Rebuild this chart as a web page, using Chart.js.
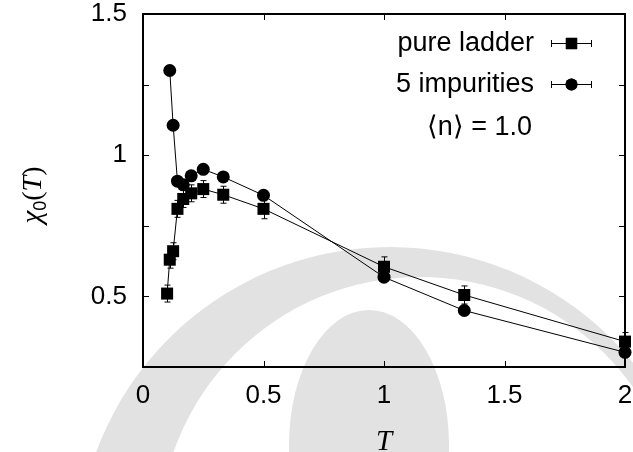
<!DOCTYPE html>
<html>
<head>
<meta charset="utf-8">
<script src="https://cdn.jsdelivr.net/npm/chart.js@4"></script>
<style>
  html, body { margin: 0; padding: 0; background: #fff; }
  canvas { display: block; }
</style>
</head>
<body>
<canvas id="chiChart" width="633" height="452"></canvas>
<script>
// temperatures and chi_0 values
const tPure = [0.1, 0.111, 0.125, 0.143, 0.167, 0.2, 0.25, 0.333, 0.5, 1.0, 1.333, 2.0];
const chiPure = [0.51, 0.63, 0.66, 0.81, 0.845, 0.865, 0.88, 0.86, 0.81, 0.605, 0.505, 0.34];
const errPure = [0.03, 0.03, 0.03, 0.03, 0.03, 0.03, 0.03, 0.03, 0.035, 0.035, 0.032, 0.032];

const tImp = [0.111, 0.125, 0.143, 0.167, 0.2, 0.25, 0.333, 0.5, 1.0, 1.333, 2.0];
const chiImp = [1.30, 1.106, 0.908, 0.895, 0.927, 0.95, 0.923, 0.858, 0.568, 0.45, 0.302];
const errImp = [0.01, 0.01, 0.01, 0.01, 0.01, 0.01, 0.01, 0.01, 0.01, 0.01, 0.01];

const seriesNames = ["pure ladder", "5 impurities"];
const xTicks = [0, 0.5, 1, 1.5, 2];
const yTickLabels = [0.5, 1, 1.5];
const annotationText = "\u27E8n\u27E9 = 1.0";

const sansFont = "'Liberation Sans', Arial, sans-serif";
const serifFont = "'Liberation Serif', 'Times New Roman', serif";

function toPoints(xs, ys) {
    return xs.map((x, i) => ({ x: x, y: ys[i] }));
}

// faint background logo (watermark in the original)
const watermarkPlugin = {
    id: "watermark",
    beforeDraw(chart) {
        const ctx = chart.ctx;
        ctx.save();
        ctx.fillStyle = "#e2e2e2";
        ctx.beginPath();
        ctx.arc(390, 560, 313, 0, Math.PI * 2);
        ctx.arc(420, 538, 261, 0, Math.PI * 2, true);
        ctx.fill("evenodd");
        ctx.beginPath();
        ctx.ellipse(369, 445, 80, 135, 0, 0, Math.PI * 2);
        ctx.fill();
        ctx.restore();
    }
};

// box round the plot plus inward ticks on all four sides
const framePlugin = {
    id: "frame",
    beforeDatasetsDraw(chart) {
        const { ctx, chartArea: a, scales } = chart;
        ctx.save();
        ctx.strokeStyle = "#000";
        ctx.lineWidth = 1;
        scales.x.ticks.forEach(t => {
            const px = Math.round(scales.x.getPixelForValue(t.value)) + 0.5;
            ctx.beginPath();
            ctx.moveTo(px, a.bottom); ctx.lineTo(px, a.bottom - 6);
            ctx.moveTo(px, a.top); ctx.lineTo(px, a.top + 6);
            ctx.stroke();
        });
        scales.y.ticks.forEach(t => {
            const py = Math.round(scales.y.getPixelForValue(t.value)) + 0.5;
            ctx.beginPath();
            ctx.moveTo(a.left, py); ctx.lineTo(a.left + 6, py);
            ctx.moveTo(a.right, py); ctx.lineTo(a.right - 6, py);
            ctx.stroke();
        });
        ctx.lineWidth = 2;
        ctx.strokeRect(a.left, a.top, a.right - a.left, a.bottom - a.top);
        ctx.restore();
    }
};

// vertical error bars with small caps
const errorBarPlugin = {
    id: "errorBars",
    afterDatasetsDraw(chart) {
        const ctx = chart.ctx;
        const yScale = chart.scales.y;
        const errs = [errPure, errImp];
        const vals = [chiPure, chiImp];
        ctx.save();
        ctx.strokeStyle = "#000";
        ctx.lineWidth = 1;
        chart.data.datasets.forEach((ds, di) => {
            const meta = chart.getDatasetMeta(di);
            meta.data.forEach((pt, i) => {
                const top = yScale.getPixelForValue(vals[di][i] + errs[di][i]);
                const bot = yScale.getPixelForValue(vals[di][i] - errs[di][i]);
                const x = Math.round(pt.x) + 0.5;
                ctx.beginPath();
                ctx.moveTo(x, top); ctx.lineTo(x, bot);
                ctx.moveTo(x - 3, top); ctx.lineTo(x + 3, top);
                ctx.moveTo(x - 3, bot); ctx.lineTo(x + 3, bot);
                ctx.stroke();
            });
        });
        ctx.restore();
    }
};

// legend inside the plot, axis titles and the <n> note
const textPlugin = {
    id: "texts",
    afterDraw(chart) {
        const ctx = chart.ctx;
        const a = chart.chartArea;
        ctx.save();
        ctx.fillStyle = "#000";
        ctx.strokeStyle = "#000";

        // legend
        ctx.font = "27px " + sansFont;
        ctx.textAlign = "right";
        ctx.textBaseline = "middle";
        const rows = [43, 84];
        const styles = ["rect", "circle"];
        rows.forEach((ry, i) => {
            ctx.fillText(seriesNames[i], 534, ry + 1);
            ctx.lineWidth = 1;
            ctx.beginPath();
            ctx.moveTo(551, ry + 0.5); ctx.lineTo(592, ry + 0.5);
            ctx.moveTo(551.5, ry - 3); ctx.lineTo(551.5, ry + 4);
            ctx.moveTo(591.5, ry - 3); ctx.lineTo(591.5, ry + 4);
            ctx.stroke();
            Chart.helpers.drawPoint(ctx, { pointStyle: styles[i], radius: i === 0 ? 8 : 6, borderWidth: 0 }, 571.5, ry + 0.5);
            ctx.fill();
        });

        ctx.fillText(annotationText, 532, 128);

        // x title
        ctx.textAlign = "center";
        ctx.textBaseline = "alphabetic";
        ctx.font = "italic 29px " + serifFont;
        ctx.fillText("T", (a.left + a.right) / 2, 450);

        // y title: chi_0(T), rotated
        ctx.translate(41, 195);
        ctx.rotate(-Math.PI / 2);
        const parts = [
            { s: "\u03C7", f: "italic 29px " + serifFont, dy: 0 },
            { s: "0", f: "18px " + sansFont, dy: 5 },
            { s: "(", f: "28px " + serifFont, dy: 0 },
            { s: "T", f: "italic 28px " + serifFont, dy: 0 },
            { s: ")", f: "28px " + serifFont, dy: 0 }
        ];
        let total = 0;
        parts.forEach(p => { ctx.font = p.f; p.w = ctx.measureText(p.s).width; total += p.w; });
        let cx = -total / 2;
        ctx.textAlign = "left";
        parts.forEach(p => {
            ctx.font = p.f;
            ctx.fillText(p.s, cx, p.dy);
            cx += p.w;
        });
        ctx.restore();
    }
};

const ctx = document.getElementById("chiChart").getContext("2d");
const chart = new Chart(ctx, {
    type: "line",
    data: {
        datasets: [
            {
                label: seriesNames[0],
                data: toPoints(tPure, chiPure),
                borderColor: "#000",
                borderWidth: 1,
                backgroundColor: "#000",
                pointStyle: "rect",
                pointRadius: 8.5,
                pointBorderWidth: 0,
                pointBackgroundColor: "#000",
                tension: 0,
                clip: false
            },
            {
                label: seriesNames[1],
                data: toPoints(tImp, chiImp),
                borderColor: "#000",
                borderWidth: 1,
                backgroundColor: "#000",
                pointStyle: "circle",
                pointRadius: 6.5,
                pointBorderWidth: 0,
                pointBackgroundColor: "#000",
                tension: 0,
                clip: false
            }
        ]
    },
    options: {
        responsive: false,
        animation: false,
        devicePixelRatio: 1,
        layout: { padding: 0, autoPadding: false },
        plugins: {
            legend: { display: false },
            tooltip: { enabled: false }
        },
        scales: {
            x: {
                type: "linear",
                min: 0,
                max: 2,
                afterFit: s => { s.height = 85; s.paddingRight = 8; s.paddingLeft = 0; },
                afterBuildTicks: s => { s.ticks = xTicks.map(v => ({ value: v })); },
                ticks: {
                    font: { family: sansFont, size: 26 },
                    color: "#000",
                    padding: 13,
                    maxRotation: 0,
                    autoSkip: false,
                    callback: v => String(v)
                },
                grid: { display: false, drawTicks: false },
                border: { display: false }
            },
            y: {
                type: "linear",
                min: 0.25,
                max: 1.5,
                afterFit: s => { s.width = 143; s.paddingTop = 14; s.paddingBottom = 0; },
                ticks: {
                    stepSize: 0.25,
                    font: { family: sansFont, size: 26 },
                    color: "#000",
                    padding: 16,
                    autoSkip: false,
                    callback: v => (yTickLabels.includes(v) ? String(v) : "")
                },
                grid: { display: false, drawTicks: false },
                border: { display: false }
            }
        }
    },
    plugins: [watermarkPlugin, framePlugin, errorBarPlugin, textPlugin]
});
</script>
</body>
</html>
